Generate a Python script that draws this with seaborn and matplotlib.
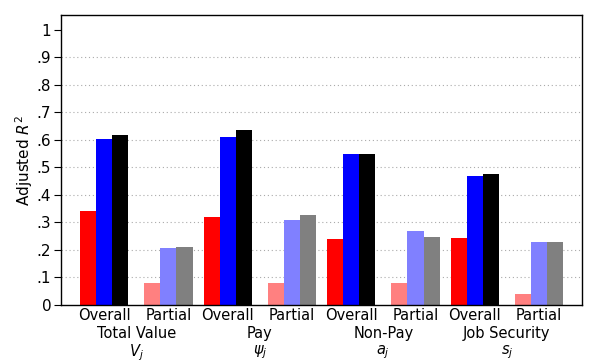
import numpy as np
import pandas as pd
import matplotlib
matplotlib.use('Agg')
import matplotlib.pyplot as plt
import seaborn as sns

# Valores (R2 ajustado)
categorias = ['Total Value', 'Pay', 'Non-Pay', 'Job Security']
simbolos = ['$V_j$', r'$\psi_j$', '$a_j$', '$s_j$']
especificaciones = ['m1', 'm2', 'm3']
overall = [[0.343, 0.605, 0.618],
           [0.321, 0.612, 0.635],
           [0.240, 0.548, 0.548],
           [0.245, 0.468, 0.475]]
partial = [[0.078, 0.206, 0.211],
           [0.079, 0.309, 0.326],
           [0.080, 0.270, 0.246],
           [0.041, 0.229, 0.229]]
colores_overall = ['#ff0000', '#0000ff', '#000000']
colores_partial = ['#ff8080', '#8080ff', '#808080']
yticks = [0, .1, .2, .3, .4, .5, .6, .7, .8, .9, 1]
ytick_labels = ['0', '.1', '.2', '.3', '.4', '.5', '.6', '.7', '.8', '.9', '1']

# posiciones de los grupos (unidad = ancho de una barra)
paso = 7.68
desfase = 4.0

filas = []
for i, cat in enumerate(categorias):
    for j, esp in enumerate(especificaciones):
        filas.append({'cat': cat, 'tipo': 'Overall', 'esp': esp,
                      'x': i * paso, 'valor': overall[i][j]})
        filas.append({'cat': cat, 'tipo': 'Partial', 'esp': esp,
                      'x': i * paso + desfase, 'valor': partial[i][j]})
df = pd.DataFrame(filas)

sns.set_style('white')
plt.rcParams['font.family'] = ['DejaVu Sans']
plt.rcParams['mathtext.fontset'] = 'dejavusans'
plt.rcParams['text.color'] = 'black'
plt.rcParams['axes.labelcolor'] = 'black'
plt.rcParams['xtick.color'] = 'black'
plt.rcParams['ytick.color'] = 'black'

fig, ax = plt.subplots(figsize=(5.98, 3.63), dpi=100)
fig.subplots_adjust(left=0.102, right=0.973, top=0.959, bottom=0.16)

for tipo, pal in [('Overall', colores_overall), ('Partial', colores_partial)]:
    sub = df[df['tipo'] == tipo]
    sns.barplot(data=sub, x='x', y='valor', hue='esp', palette=pal,
                native_scale=True, width=3 / paso, saturation=1,
                errorbar=None, legend=False, linewidth=0, ax=ax)

ax.hlines(yticks[1:-1], -10, 40, colors='#aaaaaa', linestyles=(0, (1, 2.5)),
          linewidth=0.8, zorder=0)

ax.set_xlim(-2.68, 29.7)
ax.set_ylim(0, 1.055)
ax.set_yticks(yticks)
ax.set_yticklabels(ytick_labels, fontsize=11)
ax.set_ylabel('Adjusted $R^2$', fontsize=11, labelpad=1)
ax.set_xlabel('')

pos_mayor = sorted(df['x'].unique())
ax.set_xticks(pos_mayor)
ax.set_xticklabels(['Overall', 'Partial'] * len(categorias), fontsize=10.5)
ax.set_xticks([i * paso + desfase / 2 for i in range(len(categorias))], minor=True)
ax.set_xticklabels([c + '\n' + s for c, s in zip(categorias, simbolos)],
                   minor=True, fontsize=10.5, linespacing=1.1)
ax.tick_params(axis='x', which='major', length=0, pad=2)
ax.tick_params(axis='x', which='minor', length=0, pad=15)
ax.tick_params(axis='y', length=5, width=0.8, left=True, direction='out', pad=2)

for s in ax.spines.values():
    s.set_color('black')
    s.set_linewidth(1.0)

plt.savefig('out.png', dpi=100)
